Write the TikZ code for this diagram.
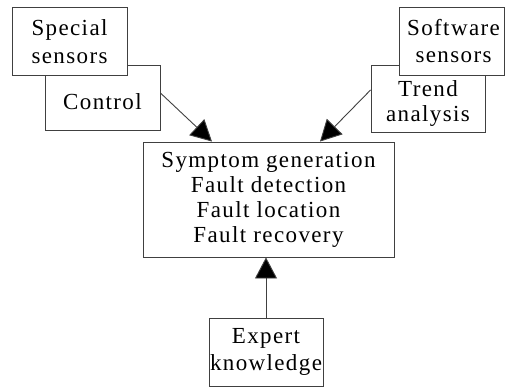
\documentclass[tikz,border=0pt]{standalone}
\usepackage{fontspec}
\setmainfont{Liberation Serif}[LetterSpace=6]
\usetikzlibrary{arrows.meta}
% lower the printed text inside a box without changing the box itself
\newcommand{\lowertext}[2]{\raisebox{-#1}[\height][\depth]{#2}}
\begin{document}
\begin{tikzpicture}[x=1pt,y=-1pt,
  blk/.style={draw=black!75, line width=0.9pt, fill=white, inner sep=0pt,
    align=center, font=\fontsize{23}{27}\selectfont},
  link/.style={draw=black!75, line width=0.9pt,
    -{Triangle[length=21pt,width=22pt,fill=black]}}]
\useasboundingbox (0,0) rectangle (506,386);
% lower boxes first, upper boxes overlap them
\node[blk, minimum width=115pt, minimum height=65pt] (ctrl) at (102.5,97.5) {\lowertext{4pt}{Control}};
\node[blk, minimum width=115pt, minimum height=68pt] (spec) at (69.5,41)
  {\lowertext{3pt}{\begin{tabular}{@{}c@{}}Special\\[1pt]sensors\end{tabular}}};
\node[blk, minimum width=114pt, minimum height=67pt, font=\fontsize{23}{25}\selectfont] (trend) at (428,98.5)
  {\lowertext{5pt}{\begin{tabular}{@{}c@{}}Trend\\analysis\end{tabular}}};
\node[blk, minimum width=105pt, minimum height=68pt] (soft) at (451.5,41)
  {\lowertext{3pt}{\begin{tabular}{@{}c@{}}\hspace*{4pt}Software\\\hspace*{4pt}sensors\end{tabular}}};
\node[blk, minimum width=251pt, minimum height=115pt, font=\fontsize{23}{25}\selectfont] (main) at (268.5,199.5)
  {Symptom\hspace{0.3em}generation\\Fault detection\\Fault location\\Fault recovery};
\node[blk, minimum width=114pt, minimum height=68pt] (exp) at (266,352) {Expert\\knowledge};
% connectors
\draw[link] (ctrl.east |- 0,93) -- (main.north west -| 212,0);
\draw[link] (trend.west |- 0,90) -- (main.north west -| 320,0);
\draw[link] (exp.north) -- (main.south -| exp.north);
\end{tikzpicture}
\end{document}
